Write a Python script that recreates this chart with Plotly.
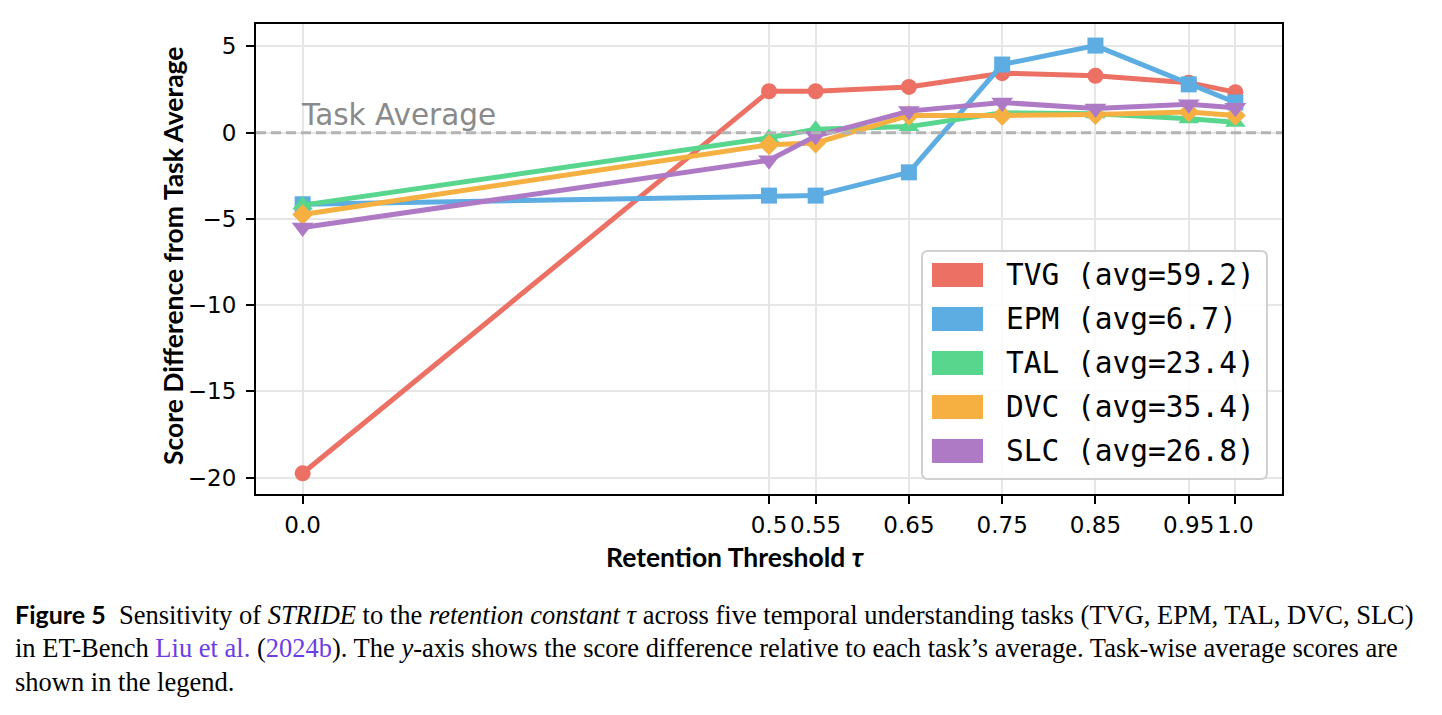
import plotly.graph_objects as go

# ---------------- data ----------------
tau = [0.0, 0.5, 0.55, 0.65, 0.75, 0.85, 0.95, 1.0]
tick_labels = ["0.0", "0.5", "0.55", "0.65", "0.75", "0.85", "0.95", "1.0"]

tasks = ["TVG", "EPM", "TAL", "DVC", "SLC"]
task_avgs = [59.2, 6.7, 23.4, 35.4, 26.8]

tvg = [-19.75, 2.4, 2.4, 2.65, 3.45, 3.3, 2.9, 2.35]
epm = [-4.15, -3.65, -3.65, -2.3, 3.95, 5.05, 2.8, 1.75]
tal = [-4.2, -0.3, 0.2, 0.35, 1.15, 1.1, 0.8, 0.6]
dvc = [-4.75, -0.7, -0.6, 1.0, 1.0, 1.05, 1.2, 1.0]
slc = [-5.5, -1.6, -0.2, 1.25, 1.75, 1.4, 1.65, 1.45]

series = [tvg, epm, tal, dvc, slc]
colors = ["#EC7063", "#5DADE2", "#58D68D", "#F5B041", "#AF7AC5"]
symbols = ["circle", "square", "triangle-up", "diamond", "triangle-down"]
msizes = [16, 16, 18, 16, 19]

y_ticks = [5, 0, -5, -10, -15, -20]

# ---------------- geometry helpers ----------------
W, H = 1442, 715
L, R, T, B = 256, 1282, 24, 494   # plot area in pixels


def px(x):
    return (x - L) / (R - L)


def py(y):
    return (B - y) / (B - T)


fig = go.Figure()

for name, ys, c, s, ms in zip(tasks, series, colors, symbols, msizes):
    fig.add_trace(go.Scatter(
        x=tau, y=ys, name=name, mode="lines+markers",
        line=dict(color=c, width=5),
        marker=dict(symbol=s, size=ms, color=c),
        showlegend=False,
    ))

# task average dashed line
fig.add_shape(type="line", xref="paper", yref="y", x0=0, x1=1, y0=0, y1=0,
              line=dict(color="#b3b3b3", width=3, dash="10px,5px"), layer="above")
fig.add_annotation(x=0.0, y=-0.05, xref="x", yref="y", text="Task Average",
                   showarrow=False, xanchor="left", yanchor="bottom", xshift=-4,
                   font=dict(family="DejaVu Sans", size=29.5, color="#8a8a8a"))

# ---------------- legend (manual, patch style) ----------------
bx0, bx1, by0, by1, rr = px(922), px(1267), py(251), py(479), 6
rx = rr / (R - L)
ry = rr / (B - T)
path = (f"M {bx0+rx},{by0} L {bx1-rx},{by0} Q {bx1},{by0} {bx1},{by0-ry} "
        f"L {bx1},{by1+ry} Q {bx1},{by1} {bx1-rx},{by1} "
        f"L {bx0+rx},{by1} Q {bx0},{by1} {bx0},{by1+ry} "
        f"L {bx0},{by0-ry} Q {bx0},{by0} {bx0+rx},{by0} Z")
fig.add_shape(type="path", xref="paper", yref="paper", path=path,
              line=dict(color="#d0d0d0", width=2), fillcolor="rgba(255,255,255,0.85)",
              layer="above")
row_y = [275, 319, 363, 407, 451]
for name, avg, c, ry_ in zip(tasks, task_avgs, colors, row_y):
    fig.add_shape(type="rect", xref="paper", yref="paper",
                  x0=px(932), x1=px(983), y0=py(ry_ - 12), y1=py(ry_ + 12),
                  fillcolor=c, line=dict(width=0), layer="above")
    fig.add_annotation(x=px(1004), y=py(ry_), xref="paper", yref="paper",
                       text=f"{name} (avg={avg})", showarrow=False,
                       xanchor="left", yanchor="middle",
                       font=dict(family="DejaVu Sans Mono", size=29.5, color="black"))

# axis titles
fig.add_annotation(x=px(173), y=py(256), xref="paper", yref="paper",
                   text="<b>Score Difference from Task Average</b>", textangle=-90,
                   showarrow=False, xanchor="center", yanchor="middle",
                   font=dict(family="Lato", size=26.5, color="black"))
fig.add_annotation(x=px(735), y=py(557), xref="paper", yref="paper",
                   text="<b>Retention Threshold <i>τ</i></b>",
                   showarrow=False, xanchor="center", yanchor="middle",
                   font=dict(family="Lato", size=26.5, color="black"))

# caption
cap_font = dict(family="Liberation Serif", size=26.5, color="black")
link = "#6b3de6"
cap1 = ("<span style='font-family:Lato;font-size:25px'><b>Figure 5</b></span>&nbsp; Sensitivity of <i>STRIDE</i> to the "
        "<i>retention constant τ</i> across five temporal understanding tasks (TVG, EPM, TAL, DVC, SLC)")
cap2 = (f"in ET-Bench <span style='color:{link}'>Liu et al.</span> (<span style='color:{link}'>2024b</span>). "
        "The <i>y</i>-axis shows the score difference relative to each task’s average. "
        "Task-wise average scores are")
cap3 = "shown in the legend."
for txt, yy in zip([cap1, cap2, cap3], [614, 648, 682]):
    fig.add_annotation(x=px(13), y=py(yy), xref="paper", yref="paper", text=txt,
                       showarrow=False, xanchor="left", yanchor="middle", font=cap_font)

fig.update_xaxes(range=[-0.05, 1.05], tickvals=tau, ticktext=tick_labels, tickangle=0,
                 showgrid=True, gridcolor="#e6e6e6", gridwidth=1.5, zeroline=False,
                 showline=True, linecolor="black", linewidth=2, mirror=True,
                 ticks="outside", ticklen=8, tickwidth=2, tickcolor="black",
                 ticklabelstandoff=1,
                 tickfont=dict(family="DejaVu Sans", size=23, color="black"))
fig.update_yaxes(range=[-20.95, 6.3], tickvals=y_ticks,
                 showgrid=True, gridcolor="#e6e6e6", gridwidth=1.5, zeroline=False,
                 showline=True, linecolor="black", linewidth=2, mirror=True,
                 ticks="outside", ticklen=8, tickwidth=2, tickcolor="black",
                 ticklabelstandoff=5,
                 tickfont=dict(family="DejaVu Sans", size=23, color="black"))

fig.update_layout(width=W, height=H, margin=dict(l=L, r=W - R, t=T, b=H - B),
                  plot_bgcolor="white", paper_bgcolor="white", showlegend=False)

fig.write_html("out.html")
